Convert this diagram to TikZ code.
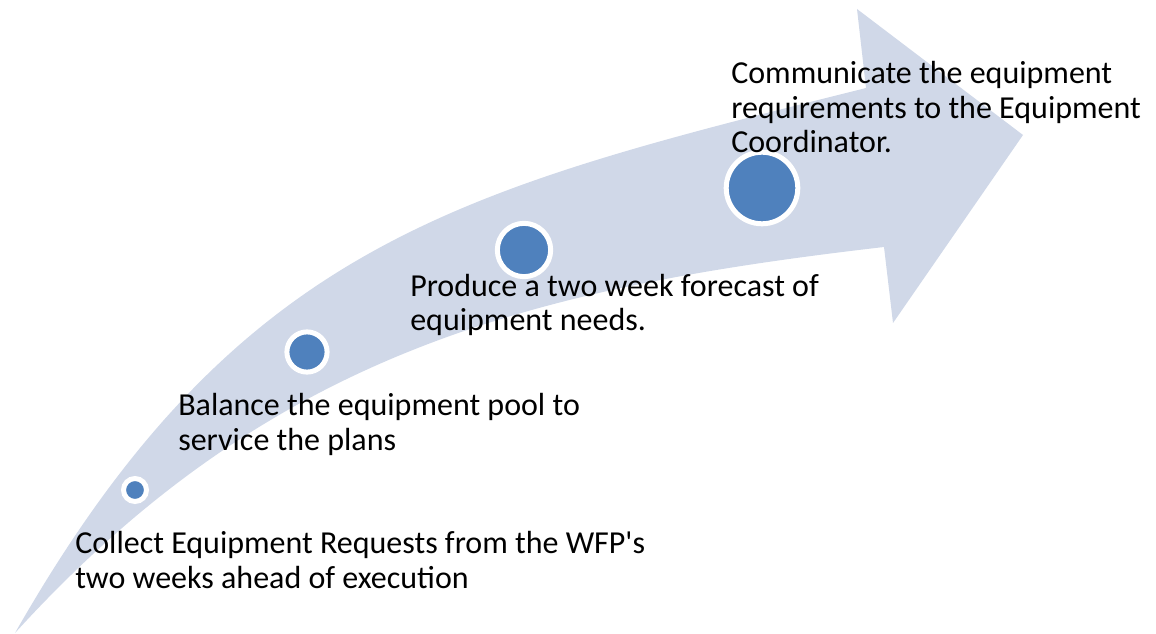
\documentclass[tikz,border=0pt]{standalone}
\usepackage{fontspec}
\setmainfont{Carlito}
\definecolor{bandfill}{HTML}{D0D8E8}
\definecolor{dotblue}{HTML}{4F81BD}
\begin{document}
\begin{tikzpicture}[x=0.75pt,y=-0.75pt,
  stepdot/.style={circle,draw=white,fill=dotblue,line width=3.75pt,inner sep=0pt},
  steptext/.style={anchor=base west,align=left,inner sep=0pt,
    font=\fontsize{24}{26}\selectfont,text=black}]
\useasboundingbox (0,0) rectangle (1156,634);
% curved band ending in an arrow head
\fill[bandfill] (15,633)
  .. controls (238,242) and (459,190) .. (866,88)
  -- (857,9) -- (1023,135) -- (893,323) -- (884,247)
  .. controls (530,288) and (271,352) .. cycle;
% growing milestone dots
\node[stepdot,minimum size=17.25pt] (d1) at (135,490) {};
\node[stepdot,minimum size=30.15pt] (d2) at (307,352) {};
\node[stepdot,minimum size=40pt]    (d3) at (524,250) {};
\node[stepdot,minimum size=53.7pt]  (d4) at (762,188) {};
% step captions (anchored at the baseline of their last line)
\node[steptext] (t1) at (75,588) {Collect Equipment Requests from the WFP\textquotesingle s\\two weeks ahead of execution};
\node[steptext] (t2) at (178,450) {Balance the equipment pool to\\service the plans};
\node[steptext] (t3) at (410,331) {Produce a two week forecast of\\equipment needs.};
\node[steptext] (t4) at (731,153) {Communicate the equipment\\requirements to the Equipment\\Coordinator.};
\end{tikzpicture}
\end{document}
